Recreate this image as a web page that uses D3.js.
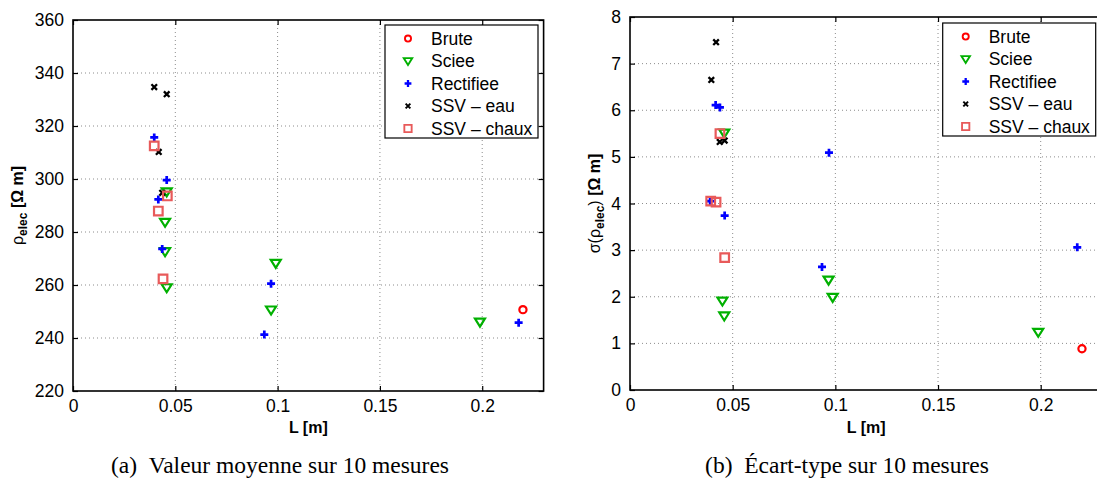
<!DOCTYPE html>
<html><head><meta charset="utf-8">
<script src="https://cdn.jsdelivr.net/npm/d3@7"></script>
<style>body{margin:0;background:#fff}svg{display:block}</style>
</head><body>
<script>
// ---------- data ----------
const seriesNames = ["Brute", "Sciee", "Rectifiee", "SSV \u2013 eau", "SSV \u2013 chaux"];
const xTicks = [0, 0.05, 0.1, 0.15, 0.2];
const xTickLabels = ["0", "0.05", "0.1", "0.15", "0.2"];
const meanTicks = [220, 240, 260, 280, 300, 320, 340, 360];
const stdTicks = [0, 1, 2, 3, 4, 5, 6, 7, 8];

// (a) mean
const meanBruteL = [0.2199];
const meanBruteV = [250.7];
const meanScieeL = [0.0458, 0.0450, 0.0450, 0.0458, 0.0991, 0.0968, 0.1989];
const meanScieeV = [295.2, 283.7, 272.6, 259.0, 268.2, 250.6, 246.0];
const meanRectL = [0.0397, 0.0458, 0.0417, 0.0436, 0.0968, 0.0935, 0.2178];
const meanRectV = [315.7, 299.6, 292.3, 273.6, 260.5, 241.3, 245.8];
const meanEauL = [0.0397, 0.0458, 0.0419, 0.0436];
const meanEauV = [334.7, 332.0, 310.2, 294.8];
const meanChauxL = [0.0397, 0.0461, 0.0417, 0.0440];
const meanChauxV = [312.5, 293.6, 287.9, 262.3];

// (b) std
const stdBruteL = [0.2201];
const stdBruteV = [0.885];
const stdScieeL = [0.0459, 0.0450, 0.0459, 0.0967, 0.0987, 0.1988];
const stdScieeV = [5.51, 1.91, 1.59, 2.36, 1.99, 1.24];
const stdRectL = [0.0417, 0.0438, 0.0390, 0.0461, 0.0969, 0.0935, 0.2178];
const stdRectV = [6.11, 6.06, 4.05, 3.74, 5.09, 2.64, 3.06];
const stdEauL = [0.0419, 0.0396, 0.0437, 0.0461];
const stdEauV = [7.46, 6.65, 5.32, 5.35];
const stdChauxL = [0.0393, 0.0419, 0.0461, 0.0438];
const stdChauxV = [4.05, 4.03, 2.84, 5.50];

// ---------- styles ----------
const colors = ["#ff0000", "#00b000", "#0000ff", "#000000", "#e85a5a"];
const markerPaths = [
  "M3.6,0A3.6,3.6 0 1,1 -3.6,0A3.6,3.6 0 1,1 3.6,0Z",
  "M-5,-3.4L5,-3.4L0,4.6Z",
  "M-4,0L4,0M0,-4L0,4",
  "M-2.8,-2.8L2.8,2.8M-2.8,2.8L2.8,-2.8",
  "M-4.3,-4.3L4.3,-4.3L4.3,4.3L-4.3,4.3Z"
];
const markerWidths = [2.2, 2.2, 2.7, 2.3, 2.2];

const svg = d3.select("body").append("svg").attr("width", 1097).attr("height", 482);
const FONT = "'Liberation Sans', Arial, Helvetica, sans-serif";

function panel(cfg) {
  const x = d3.scaleLinear().domain([0, 0.23]).range([cfg.left, cfg.right]);
  const y = d3.scaleLinear().domain(cfg.yDomain).range([cfg.bottom, cfg.top]);
  const g = svg.append("g");

  // grid
  g.selectAll(".gx").data(xTicks.slice(1)).enter().append("line")
    .attr("x1", d => x(d)).attr("x2", d => x(d)).attr("y1", cfg.top).attr("y2", cfg.bottom)
    .attr("stroke", "#8c8c8c").attr("stroke-width", 1).attr("stroke-dasharray", "1,3");
  g.selectAll(".gy").data(cfg.yTicks.slice(1, -1)).enter().append("line")
    .attr("y1", d => y(d)).attr("y2", d => y(d)).attr("x1", cfg.left).attr("x2", cfg.right)
    .attr("stroke", "#8c8c8c").attr("stroke-width", 1).attr("stroke-dasharray", "1,3");

  // axes via d3 (inward ticks)
  const ax = g.append("g").attr("transform", `translate(0,${cfg.bottom})`)
    .call(d3.axisBottom(x).tickValues(xTicks).tickFormat((d, i) => xTickLabels[i]).tickSizeInner(-5).tickSizeOuter(0).tickPadding(9));
  const axT = g.append("g").attr("transform", `translate(0,${cfg.top})`)
    .call(d3.axisTop(x).tickValues(xTicks).tickFormat("").tickSizeInner(-5).tickSizeOuter(0));
  const ay = g.append("g").attr("transform", `translate(${cfg.left},0)`)
    .call(d3.axisLeft(y).tickValues(cfg.yTicks).tickFormat(d3.format("d")).tickSizeInner(-5).tickSizeOuter(0).tickPadding(9));
  const ayR = g.append("g").attr("transform", `translate(${cfg.right},0)`)
    .call(d3.axisRight(y).tickValues(cfg.yTicks).tickFormat("").tickSizeInner(-5).tickSizeOuter(0));
  [ax, axT, ay, ayR].forEach(a => {
    a.select(".domain").remove();
    a.selectAll("line").attr("stroke", "#000").attr("stroke-width", 1.2);
    a.selectAll("text").attr("font-family", FONT).attr("font-size", 17.5).attr("fill", "#000");
  });
  g.append("rect").attr("x", cfg.left).attr("y", cfg.top)
    .attr("width", cfg.right - cfg.left).attr("height", cfg.bottom - cfg.top)
    .attr("fill", "none").attr("stroke", "#000").attr("stroke-width", 1.6);

  // markers
  cfg.series.forEach((s, i) => {
    g.selectAll(null).data(s.L.map((l, k) => [l, s.V[k]])).enter().append("path")
      .attr("d", markerPaths[i])
      .attr("transform", d => `translate(${x(d[0])},${y(d[1])})`)
      .attr("fill", "none").attr("stroke", colors[i]).attr("stroke-width", markerWidths[i]);
  });

  // legend
  const lg = g.append("g").attr("transform", `translate(${cfg.legX},${cfg.legY})`);
  lg.append("rect").attr("width", cfg.legW).attr("height", 113)
    .attr("fill", "#fff").attr("stroke", "#000").attr("stroke-width", 1.2);
  seriesNames.forEach((n, i) => {
    const yy = 13.5 + i * 22.5;
    lg.append("path").attr("d", markerPaths[i]).attr("transform", `translate(23,${yy}) scale(0.85)`)
      .attr("fill", "none").attr("stroke", colors[i]).attr("stroke-width", markerWidths[i]);
    lg.append("text").attr("x", 46).attr("y", yy + 6).text(n)
      .attr("font-family", FONT).attr("font-size", 17.5).attr("fill", "#000");
  });

  // x label
  g.append("text").attr("x", (cfg.left + cfg.right) / 2).attr("y", 433)
    .attr("text-anchor", "middle").attr("font-family", FONT).attr("font-weight", "bold")
    .attr("font-size", 16).text("L [m]");

  // y label
  const yl = g.append("text").attr("transform", `translate(${cfg.ylX},${(cfg.top + cfg.bottom) / 2}) rotate(-90)`)
    .attr("text-anchor", "middle").attr("font-family", FONT).attr("font-size", 16).attr("font-weight", "bold");
  cfg.ylabel.forEach(p => {
    const t = yl.append("tspan").text(p.t);
    if (p.sub) t.attr("font-size", 12).attr("baseline-shift", "-30%");
    if (p.normal) t.attr("font-weight", "normal");
  });

  // caption
  svg.append("text").attr("x", cfg.capX).attr("y", 473).attr("text-anchor", "middle")
    .attr("font-family", "'Liberation Serif', 'Times New Roman', serif").attr("font-size", 23.5)
    .text(cfg.caption);
}

panel({
  left: 73, right: 543.6, top: 20, bottom: 391,
  yDomain: [220, 360], yTicks: meanTicks,
  series: [
    {L: meanBruteL, V: meanBruteV}, {L: meanScieeL, V: meanScieeV}, {L: meanRectL, V: meanRectV},
    {L: meanEauL, V: meanEauV}, {L: meanChauxL, V: meanChauxV}
  ],
  legX: 385, legY: 25, legW: 153,
  ylX: 23,
  ylabel: [{t: "\u03c1", normal: true}, {t: "elec", sub: true}, {t: " [\u03a9 m]"}],
  caption: "(a)\u2002Valeur moyenne sur 10 mesures", capX: 280
});

panel({
  left: 630, right: 1102.3, top: 17, bottom: 390,
  yDomain: [0, 8], yTicks: stdTicks,
  series: [
    {L: stdBruteL, V: stdBruteV}, {L: stdScieeL, V: stdScieeV}, {L: stdRectL, V: stdRectV},
    {L: stdEauL, V: stdEauV}, {L: stdChauxL, V: stdChauxV}
  ],
  legX: 942.7, legY: 23, legW: 153,
  ylX: 600,
  ylabel: [{t: "\u03c3(\u03c1", normal: true}, {t: "elec", sub: true}, {t: ")", normal: true}, {t: " [\u03a9 m]"}],
  caption: "(b)\u2002\u00c9cart-type sur 10 mesures", capX: 847
});
</script>
</body></html>
